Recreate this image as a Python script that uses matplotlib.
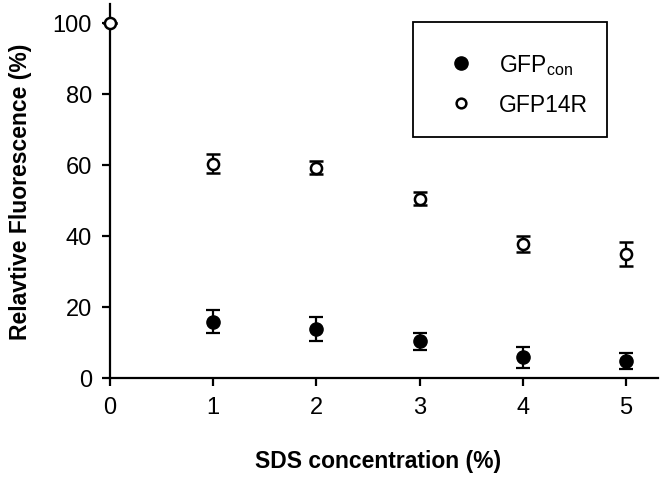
import numpy as np
import matplotlib.pyplot as plt
from matplotlib.patches import Rectangle
from matplotlib.lines import Line2D

plt.rcParams['font.family'] = ['Liberation Sans', 'DejaVu Sans']

# Data
sds = [1, 2, 3, 4, 5]
gfp_con = [15.9, 13.8, 10.3, 5.8, 4.7]
gfp_con_err = [3.3, 3.5, 2.4, 3.0, 2.2]

sds_14r = [0, 1, 2, 3, 4, 5]
gfp_14r = [100, 60.3, 59.2, 50.5, 37.7, 34.9]
gfp_14r_err = [0, 2.7, 1.9, 1.8, 2.3, 3.4]

fig = plt.figure(figsize=(6.64, 4.89), dpi=100)
ax = fig.add_axes([110/664, 110/489, 548/664, 374/489])

ax.errorbar(sds, gfp_con, yerr=gfp_con_err, fmt='o', color='black',
            markersize=9.5, capsize=5, elinewidth=1.6, capthick=1.6,
            clip_on=False)
ax.errorbar(sds_14r, gfp_14r, yerr=gfp_14r_err, fmt='o', color='black',
            mfc='white', mec='black', mew=1.8, markersize=8,
            capsize=5, elinewidth=1.6, capthick=1.6, clip_on=False, zorder=5)

ax.set_xlim(0, 5.31)
ax.set_ylim(0, 105.3)
ax.set_xticks(range(6))
ax.set_yticks(range(0, 101, 20))
for s in ['top', 'right']:
    ax.spines[s].set_visible(False)
for s in ['left', 'bottom']:
    ax.spines[s].set_linewidth(1.6)
ax.tick_params(direction='out', length=6, width=1.6, labelsize=17, pad=7)

ax.set_xlabel('SDS concentration (%)', fontsize=16.5, fontweight='bold', labelpad=26)
ax.set_ylabel('Relavtive Fluorescence (%)', fontsize=16.5, fontweight='bold', labelpad=15)
ax.xaxis.set_label_coords(0.489, -0.19)

# legend box
ax.add_patch(Rectangle((0.553, 0.644), 0.354, 0.308, transform=ax.transAxes,
                       fill=False, edgecolor='black', linewidth=1.3, clip_on=False))
handles = [
    Line2D([], [], ls='none', marker='o', color='black', markersize=9.5),
    Line2D([], [], ls='none', marker='o', mfc='white', mec='black', mew=1.8, markersize=7),
]
labels = ['GFP$_{\\mathregular{con}}$', 'GFP14R']
ax.legend(handles, labels, loc='center', bbox_to_anchor=(0.741, 0.786), frameon=False,
          fontsize=16.5, handletextpad=0.9, labelspacing=0.67, handlelength=1.5)

fig.savefig('out.png', dpi=100)
